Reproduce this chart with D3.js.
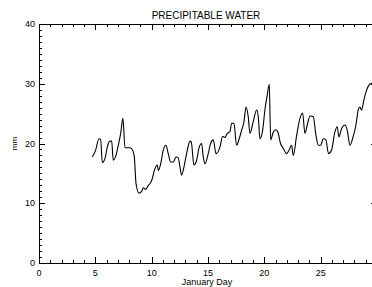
<!DOCTYPE html>
<html>
<head>
<meta charset="utf-8">
<script src="https://cdn.jsdelivr.net/npm/d3@7"></script>
<style>
  body { margin: 0; background: #fff; }
  svg { display: block; font-family: "Liberation Sans", Arial, sans-serif; }
</style>
</head>
<body>
<script>
// Dati: giorno di gennaio e acqua precipitabile (mm)
var days = [4.73, 5.03, 5.32, 5.47, 5.62, 5.86, 6.06, 6.30, 6.45, 6.59, 6.83, 7.04, 7.25, 7.45,
  7.63, 7.83, 8.07, 8.28, 8.46, 8.61, 8.87, 9.11, 9.26, 9.46, 9.70, 9.85, 10.00, 10.29, 10.50,
  10.59, 10.80, 11.03, 11.27, 11.47, 11.69, 11.92, 12.16, 12.36, 12.51, 12.66, 12.87, 13.10,
  13.40, 13.52, 13.75, 13.99, 14.22, 14.43, 14.58, 14.73, 15.02, 15.23, 15.47, 15.71, 16.06,
  16.30, 16.50, 16.71, 16.95, 17.10, 17.30, 17.54, 17.77, 17.98, 18.19, 18.37, 18.57, 18.72,
  19.02, 19.32, 19.46, 19.61, 19.85, 20.05, 20.26, 20.44, 20.56, 20.79, 21.03, 21.22, 21.44,
  21.68, 21.98, 22.20, 22.42, 22.57, 22.87, 23.16, 23.40, 23.60, 23.81, 24.05, 24.34, 24.58,
  24.79, 25.00, 25.23, 25.46, 25.70, 25.97, 26.26, 26.47, 26.62, 26.86, 27.15, 27.36, 27.60,
  27.83, 28.13, 28.33, 28.48, 28.63, 28.84, 29.07, 29.30, 29.55, 29.80];
var pw = [17.75, 18.9, 20.8, 20.7, 16.8, 17.5, 19.4, 20.4, 20.4, 17.2, 18.0, 19.7, 21.7, 24.2,
  19.3, 19.3, 19.3, 19.0, 17.75, 13.3, 11.7, 12.0, 12.6, 12.3, 13.0, 13.3, 13.8, 15.8, 16.4,
  15.5, 16.6, 18.9, 19.7, 18.3, 16.9, 16.9, 17.75, 17.6, 16.1, 14.7, 16.1, 18.3,
  20.4, 20.2, 16.4, 17.2, 19.4, 20.0, 17.75, 16.6, 18.3, 20.0, 20.6, 18.3, 19.4,
  21.2, 21.0, 21.7, 22.0, 23.4, 23.4, 19.7, 20.8, 22.2, 23.6, 26.1, 24.5, 21.7,
  23.7, 25.6, 24.5, 20.8, 22.2, 25.6, 28.1, 29.9, 20.6, 21.9, 22.3, 21.8, 20.0,
  19.2, 18.3, 18.9, 19.7, 18.0, 21.4, 24.2, 25.1, 21.7, 23.1, 24.6, 24.5, 21.4,
  19.7, 19.7, 20.8, 20.6, 18.3, 18.9, 21.9, 22.8, 21.1, 22.5, 23.1, 22.2, 19.7,
  20.8, 23.1, 25.6, 26.1, 25.6, 27.3, 28.9, 29.8, 30.1, 30.2];

var xMajor = [0, 5, 10, 15, 20, 25, 30];
var yMajor = [0, 10, 20, 30, 40];

var titolo = "PRECIPITABLE WATER";
var xTitolo = "January Day";
var yTitolo = "mm";

// Dimensioni dell'area di disegno
var W = 372, H = 287;
var margin = { left: 39, right: 377, top: 24, bottom: 263 };

var svg = d3.select("body")
  .append("svg")
  .attr("width", W)
  .attr("height", H);

var x = d3.scaleLinear().domain([0, 30]).range([margin.left, margin.right]);
var y = d3.scaleLinear().domain([0, 40]).range([margin.bottom, margin.top]);

var xMinor = d3.range(0, 31).filter(function (d) { return d % 5 !== 0; });
var yMinor = d3.range(0, 41).filter(function (d) { return d % 10 !== 0; });

var g = svg.append("g")
  .attr("stroke", "#000")
  .attr("stroke-width", 1)
  .attr("shape-rendering", "crispEdges");

// Cornice
g.append("rect")
  .attr("x", margin.left + 0.5)
  .attr("y", margin.top + 0.5)
  .attr("width", margin.right - margin.left)
  .attr("height", margin.bottom - margin.top)
  .attr("fill", "none");

// Tacche asse x (sotto e sopra, verso l'interno)
function tickX(vals, len) {
  vals.forEach(function (d) {
    var px = Math.round(x(d)) + 0.5;
    g.append("line").attr("x1", px).attr("x2", px)
      .attr("y1", margin.bottom).attr("y2", margin.bottom - len);
    g.append("line").attr("x1", px).attr("x2", px)
      .attr("y1", margin.top).attr("y2", margin.top + len);
  });
}
tickX(xMajor, 6);
tickX(xMinor, 3);

// Tacche asse y (sinistra e destra)
function tickY(vals, len) {
  vals.forEach(function (d) {
    var py = Math.round(y(d)) + 0.5;
    g.append("line").attr("x1", margin.left).attr("x2", margin.left + len)
      .attr("y1", py).attr("y2", py);
    g.append("line").attr("x1", margin.right).attr("x2", margin.right - len)
      .attr("y1", py).attr("y2", py);
  });
}
tickY(yMajor, 6);
tickY(yMinor, 3);

// Etichette
svg.selectAll("text.xl")
  .data(xMajor)
  .enter()
  .append("text")
  .attr("class", "xl")
  .attr("x", function (d) { return x(d); })
  .attr("y", 276)
  .attr("text-anchor", "middle")
  .attr("font-size", 9)
  .text(function (d) { return d; });

svg.selectAll("text.yl")
  .data(yMajor)
  .enter()
  .append("text")
  .attr("class", "yl")
  .attr("x", 35)
  .attr("y", function (d) { return y(d) + 3; })
  .attr("text-anchor", "end")
  .attr("font-size", 9)
  .text(function (d) { return d; });

svg.append("text")
  .attr("x", 206)
  .attr("y", 19)
  .attr("text-anchor", "middle")
  .attr("font-size", 10)
  .text(titolo);

svg.append("text")
  .attr("x", 207)
  .attr("y", 285)
  .attr("text-anchor", "middle")
  .attr("font-size", 9)
  .text(xTitolo);

svg.append("text")
  .attr("transform", "translate(17," + ((margin.top + margin.bottom) / 2) + ") rotate(-90)")
  .attr("text-anchor", "middle")
  .attr("font-size", 8)
  .text(yTitolo);

// Linea dei dati
var line = d3.line()
  .x(function (d) { return x(d[0]); })
  .y(function (d) { return y(d[1]); })
  .curve(d3.curveMonotoneX);

svg.append("path")
  .datum(d3.zip(days, pw))
  .attr("d", line)
  .attr("fill", "none")
  .attr("stroke", "#000")
  .attr("stroke-width", 1.1);
</script>
</body>
</html>
